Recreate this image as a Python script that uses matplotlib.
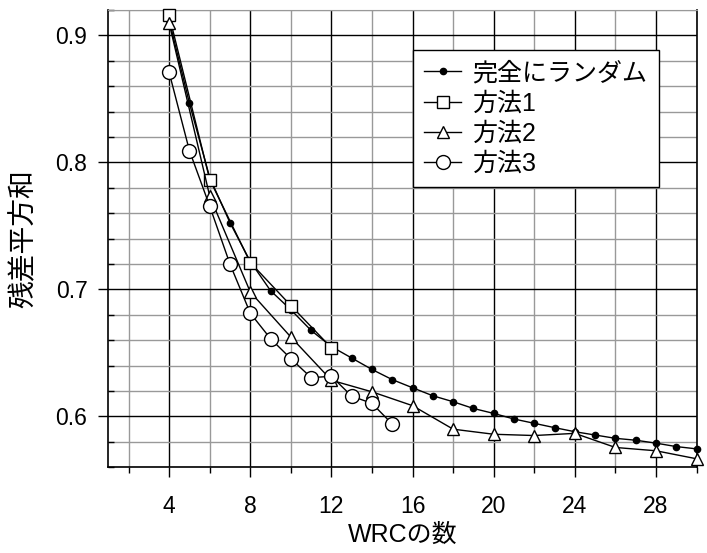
import numpy as np
import matplotlib
matplotlib.use('Agg')
import matplotlib.pyplot as plt
from matplotlib.ticker import MultipleLocator

plt.rcParams['font.family'] = ['Liberation Sans', 'Noto Sans CJK JP']

# data
x_random = list(range(4, 31))
y_random = [0.912, 0.8465, 0.788, 0.7525, 0.722, 0.699, 0.684, 0.6677, 0.655,
            0.646, 0.637, 0.629, 0.6226, 0.6163, 0.6116, 0.6063, 0.6024, 0.598,
            0.5946, 0.5912, 0.588, 0.5854, 0.5828, 0.5813, 0.579, 0.5763, 0.5745]

x_m1 = [4, 6, 8, 10, 12]
y_m1 = [0.9157, 0.7865, 0.7212, 0.6873, 0.654]

x_m2 = [4, 6, 8, 10, 12, 14, 16, 18, 20, 22, 24, 26, 28, 30]
y_m2 = [0.9096, 0.7734, 0.698, 0.6625, 0.6285, 0.6194, 0.6085, 0.590, 0.586,
        0.585, 0.5867, 0.5756, 0.573, 0.5667]

x_m3 = [4, 5, 6, 7, 8, 9, 10, 11, 12, 13, 14, 15]
y_m3 = [0.8708, 0.8092, 0.7655, 0.7199, 0.6813, 0.6612, 0.6455, 0.6306, 0.6316,
        0.616, 0.6103, 0.594]

labels = ['完全にランダム', '方法1', '方法2', '方法3']

fig = plt.figure(figsize=(7.07, 5.53), dpi=100)
ax = fig.add_axes([0.1532, 0.155, 0.832, 0.827])

ax.plot(x_random, y_random, '-o', color='black', lw=1, ms=4.5, label=labels[0], zorder=5, clip_on=False)
ax.plot(x_m1, y_m1, '-s', color='black', lw=1, ms=8, mfc='white', mec='black', mew=1, label=labels[1], zorder=6, clip_on=False)
ax.plot(x_m2, y_m2, '-^', color='black', lw=1, ms=9, mfc='white', mec='black', mew=1, label=labels[2], zorder=7, clip_on=False)
ax.plot(x_m3, y_m3, '-o', color='black', lw=1, ms=10, mfc='white', mec='black', mew=1, label=labels[3], zorder=8, clip_on=False)

ax.set_xlim(1, 30)
ax.set_ylim(0.56, 0.92)
ax.xaxis.set_major_locator(MultipleLocator(4))
ax.xaxis.set_minor_locator(MultipleLocator(2))
ax.yaxis.set_major_locator(MultipleLocator(0.1))
ax.yaxis.set_minor_locator(MultipleLocator(0.02))
ax.set_xticks([4, 8, 12, 16, 20, 24, 28])

ax.grid(which='minor', color='#999999', lw=1, zorder=0)
ax.grid(which='major', color='black', lw=1, zorder=1)
ax.set_axisbelow(True)

ax.tick_params(axis='x', which='major', direction='out', length=7, width=1, pad=13, labelsize=16.5)
ax.tick_params(axis='x', which='minor', direction='out', length=4.5, width=1)
ax.tick_params(axis='y', which='major', direction='out', length=7, width=1, pad=8, labelsize=16.5)
ax.tick_params(axis='y', which='minor', direction='in', length=4.5, width=1)

for s in ['left', 'bottom', 'right']:
    ax.spines[s].set_color('black')
    ax.spines[s].set_linewidth(1.2)
ax.spines['top'].set_color('#999999')

ax.set_xlabel('WRCの数', fontsize=18)
ax.set_ylabel('残差平方和', fontsize=20)
ax.xaxis.set_label_coords(0.5, -0.147)
ax.yaxis.set_label_coords(-0.143, 0.5)
ax.xaxis.label.set_va('center')
ax.yaxis.label.set_va('center')

leg = ax.legend(loc='upper right', bbox_to_anchor=(0.936, 0.9125), borderaxespad=0,
                fontsize=18, fancybox=False, framealpha=1, edgecolor='black',
                handlelength=1.5, handletextpad=0.45, labelspacing=0.25, borderpad=0.45)
leg.get_frame().set_linewidth(1)
leg.set_zorder(20)

fig.savefig('out.png', dpi=100)
